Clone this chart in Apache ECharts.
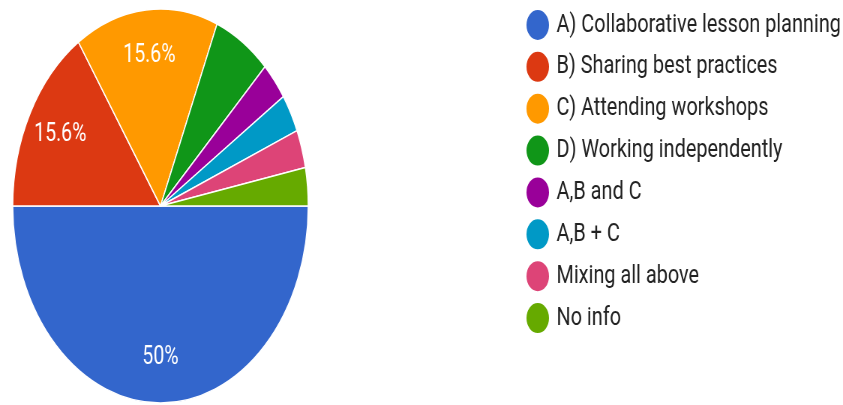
<!DOCTYPE html>
<html>
<head>
<meta charset="utf-8">
<title>Collaboration preferences</title>
<script src="https://cdn.jsdelivr.net/npm/echarts@6/dist/echarts.min.js"></script>
<style>
  html, body { margin: 0; padding: 0; background: #ffffff; overflow: hidden; }
  #wrap { width: 843px; height: 405px; overflow: hidden; position: relative; }
  /* the chart is laid out wide, then narrowed horizontally */
  #chart { width: 1124px; height: 405px; transform: scaleX(0.75); transform-origin: 0 0; }
</style>
</head>
<body>
<div id="wrap"><div id="chart"></div></div>
<script>
// Answer options and number of responses for each
const categories = [
  'A) Collaborative lesson planning',
  'B) Sharing best practices',
  'C) Attending workshops',
  'D) Working independently',
  'A,B and C',
  'A,B + C',
  'Mixing all above',
  'No info'
];
const responses = [16, 5, 5, 2, 1, 1, 1, 1];
const sliceColors = ['#3366cc', '#dc3912', '#ff9900', '#109618', '#990099', '#0099c6', '#dd4477', '#66aa00'];

const chart = echarts.init(document.getElementById('chart'), null, { renderer: 'canvas' });

const pieData = categories.map((name, i) => ({ name: name, value: responses[i] }));
const total = responses.reduce((a, b) => a + b, 0);

// percentage of all responses, one decimal, trailing ".0" dropped
function pctText(v) {
  return (Math.round(v / total * 1000) / 10) + '%';
}

const centre = [214, 206];
const outerR = 197;

chart.setOption({
  animation: false,
  color: sliceColors,
  legend: {
    orient: 'vertical',
    left: 700,
    top: 8,
    padding: 0,
    icon: 'circle',
    itemWidth: 32,
    itemHeight: 32,
    itemGap: 7.86,
    selectedMode: false,
    data: categories,
    textStyle: {
      fontFamily: 'Roboto',
      fontSize: 26.5,
      lineHeight: 26,
      color: '#222222',
      padding: [0, 0, 0, 4]
    }
  },
  series: [
    {
      type: 'pie',
      center: centre,
      radius: outerR,
      startAngle: 0,
      clockwise: true,
      silent: true,
      data: pieData,
      label: { show: false },
      labelLine: { show: false },
      itemStyle: { borderColor: '#ffffff', borderWidth: 1.5 },
      emphasis: { disabled: true }
    },
    {
      // transparent ring that carries the percentage labels further out
      type: 'pie',
      center: centre,
      radius: [100, outerR],
      startAngle: 0,
      clockwise: true,
      silent: true,
      data: pieData,
      itemStyle: { color: 'rgba(0,0,0,0)', borderWidth: 0 },
      labelLine: { show: false },
      emphasis: { disabled: true },
      label: {
        show: true,
        position: 'inside',
        fontFamily: 'Roboto',
        fontSize: 26,
        color: '#ffffff',
        formatter: function (p) {
          return p.value / total >= 0.1 ? pctText(p.value) : '';
        }
      }
    }
  ]
});
</script>
</body>
</html>
